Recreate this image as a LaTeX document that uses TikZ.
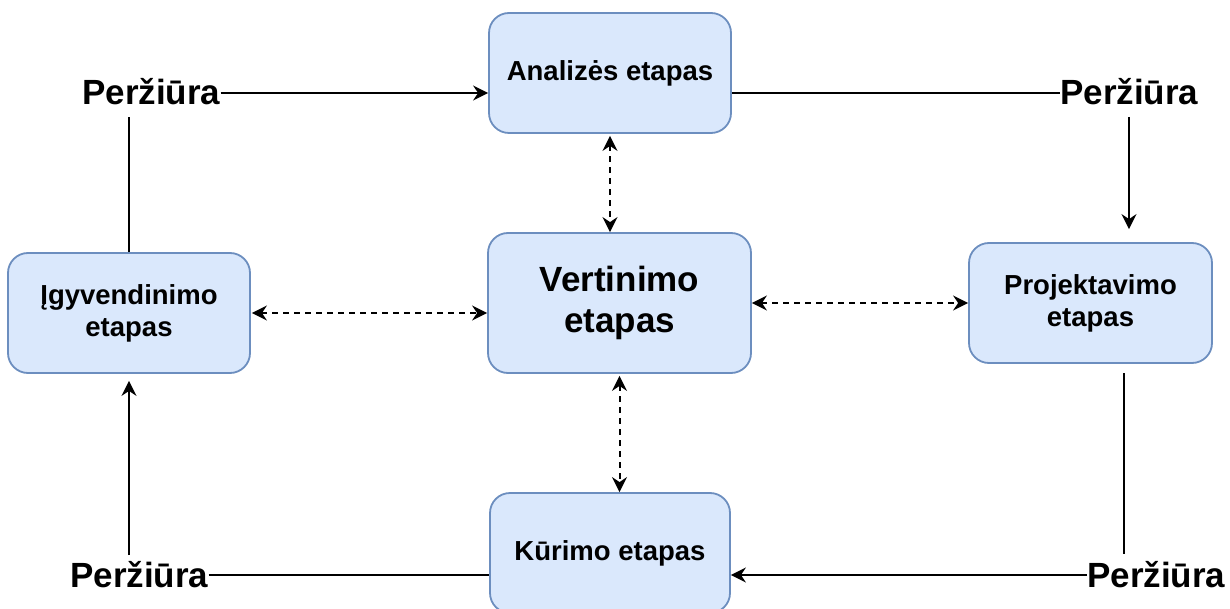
\documentclass[tikz,border=0pt]{standalone}
\usepackage{fontspec}
\setmainfont{Liberation Sans}
\usetikzlibrary{arrows.meta}
\definecolor{boxfill}{HTML}{DAE8FC}
\definecolor{boxline}{HTML}{6C8EBF}
\tikzset{
  stage/.style={draw=boxline, fill=boxfill, line width=1.8pt, rounded corners=20pt,
    inner sep=0pt, align=center, font=\bfseries\fontsize{27.5}{32}\selectfont},
  review/.style={inner sep=0pt, anchor=base west, text height=24pt, text depth=0pt,
    font=\bfseries\fontsize{35}{40}\selectfont},
  flow/.style={line width=2pt},
  link/.style={line width=2pt, dash pattern=on 6pt off 5pt, <->}
}
\begin{document}
\begin{tikzpicture}[x=1pt, y=-1pt, >={Stealth[length=15pt, width=15pt, inset=5pt]}]
\clip (0,0) rectangle (1230,609);

% stages
\node[stage, minimum width=242pt, minimum height=120pt] (ana) at (610,73) {Analizės etapas};
\node[stage, minimum width=263pt, minimum height=140pt, font=\bfseries\fontsize{35}{41}\selectfont] (ver) at (619.5,303) {Vertinimo\\etapas};
\node[stage, minimum width=242pt, minimum height=120pt] (igy) at (129,313) {Įgyvendinimo\\etapas};
\node[stage, minimum width=243pt, minimum height=120pt] (pro) at (1090.5,303) {Projektavimo\\etapas};
\node[stage, minimum width=240pt, minimum height=120pt] (kur) at (610,553) {Kūrimo etapas};

% review labels
\node[review] (p1) at (82,105) {Peržiūra};
\node[review] (p2) at (1060,105) {Peržiūra};
\node[review] (p3) at (70,587) {Peržiūra};
\node[review] (p4) at (1087,587) {Peržiūra};

% free ends of the review lines
\coordinate (c1) at (129,117);
\coordinate (c2) at (1129,117);
\coordinate (c3) at (1124,373);
\coordinate (c4) at (1124,554);
\coordinate (c5) at (129,555);

% review cycle
\draw[flow] (igy.north) -- (c1);
\draw[flow, ->] (p1.east) -- (p1.east -| ana.west);
\draw[flow] (p2.west -| ana.east) -- (p2.west);
\draw[flow, ->, shorten >=13pt] (c2) -- (c2 |- pro.north);
\draw[flow] (c3) -- (c4);
\draw[flow, ->] (p4.west) -- (p4.west -| kur.east);
\draw[flow] (p3.east) -- (p3.east -| kur.west);
\draw[flow, ->, shorten >=7pt] (c5) -- (c5 |- igy.south);

% links with the evaluation stage
\draw[link, shorten <=2pt] (ana.south) -- (ana.south |- ver.north);
\draw[link, shorten <=1pt] (igy.east) -- (igy.east -| ver.west);
\draw[link] (ver.east) -- (ver.east -| pro.west);
\draw[link, shorten <=2pt] (ver.south) -- (ver.south |- kur.north);
\end{tikzpicture}
\end{document}
